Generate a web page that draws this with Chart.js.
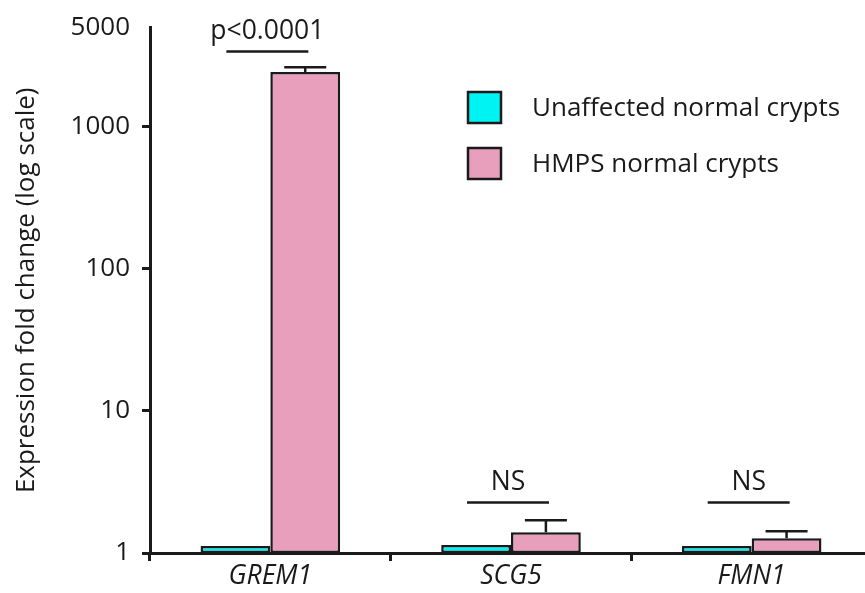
<!DOCTYPE html>
<html>
<head>
<meta charset="utf-8">
<script src="https://cdn.jsdelivr.net/npm/chart.js@4.4.0/dist/chart.umd.min.js"></script>
<style>
html,body{margin:0;padding:0;background:#fff;overflow:hidden;width:865px;height:593px;}
canvas{display:block;}
</style>
</head>
<body>
<canvas id="c" width="872" height="593"></canvas>
<script>
const categories = ['GREM1', 'SCG5', 'FMN1'];
const seriesNames = ['Unaffected normal crypts', 'HMPS normal crypts'];
const unaffected = [1.12, 1.14, 1.12];
const hmps = [2430, 1.40, 1.27];
const hmpsErrUpper = [2630, 1.70, 1.42];
const yTickValues = [1, 10, 100, 1000, 5000];
const sigLabels = ['p<0.0001', 'NS', 'NS'];
const sigLevel = [3400, 2.27, 2.27];

const FONT = "'Open Sans', 'Noto Sans', sans-serif";
const INK = '#1a1a1a';
const CYAN = '#00f3f3';
const PINK = '#e89fbc';

const overlay = {
  id: 'overlay',
  afterDatasetsDraw(chart) {
    const ctx = chart.ctx;
    const xs = chart.scales.x, ys = chart.scales.y;
    ctx.save();
    // error bars on HMPS bars
    const meta = chart.getDatasetMeta(1);
    ctx.strokeStyle = INK;
    ctx.lineWidth = 2.5;
    meta.data.forEach((bar, i) => {
      const top = ys.getPixelForValue(hmps[i]);
      const cap = ys.getPixelForValue(hmpsErrUpper[i]);
      ctx.beginPath();
      ctx.moveTo(bar.x, top);
      ctx.lineTo(bar.x, cap);
      ctx.moveTo(bar.x - 21, cap);
      ctx.lineTo(bar.x + 21, cap);
      ctx.stroke();
    });
    // significance annotations
    ctx.fillStyle = INK;
    ctx.font = '26.5px ' + FONT;
    ctx.textAlign = 'center';
    ctx.textBaseline = 'alphabetic';
    categories.forEach((c, i) => {
      const cx = xs.getPixelForValue(i) - 3;
      const y = ys.getPixelForValue(sigLevel[i]);
      ctx.beginPath();
      ctx.lineWidth = 2.5;
      ctx.moveTo(cx - 41, y);
      ctx.lineTo(cx + 41, y);
      ctx.stroke();
      ctx.fillText(sigLabels[i], cx, y - 12);
    });
    // legend
    const colors = [CYAN, PINK];
    ctx.textAlign = 'left';
    ctx.textBaseline = 'middle';
    ctx.font = '26px ' + FONT;
    seriesNames.forEach((n, i) => {
      const bx = 468, by = 92 + i * 56;
      ctx.fillStyle = colors[i];
      ctx.fillRect(bx, by, 33, 31);
      ctx.lineWidth = 2.5;
      ctx.strokeStyle = INK;
      ctx.strokeRect(bx, by, 33, 31);
      ctx.fillStyle = INK;
      ctx.fillText(n, 532, by + 17);
    });
    ctx.restore();
  }
};

new Chart(document.getElementById('c'), {
  type: 'bar',
  data: {
    labels: categories,
    datasets: [
      { label: seriesNames[0], data: unaffected, backgroundColor: CYAN, borderColor: INK, borderWidth: 2.5, borderSkipped: false },
      { label: seriesNames[1], data: hmps, backgroundColor: PINK, borderColor: INK, borderWidth: 2.5, borderSkipped: false }
    ]
  },
  options: {
    responsive: false,
    animation: false,
    devicePixelRatio: 1,
    layout: { padding: { top: 25, right: 0, bottom: 0, left: 0 } },
    plugins: { legend: { display: false }, tooltip: { enabled: false } },
    datasets: { bar: { categoryPercentage: 0.58, barPercentage: 1.0 } },
    scales: {
      x: {
        type: 'category',
        offset: true,
        afterFit(s) { s.height = 40; },
        border: { display: true, color: INK, width: 3 },
        grid: { display: true, offset: true, drawOnChartArea: false, drawTicks: true, tickLength: 8, color: INK, lineWidth: 3 },
        ticks: { color: INK, font: { family: FONT, size: 26.5, style: 'italic' }, padding: 0, maxRotation: 0 }
      },
      y: {
        type: 'logarithmic',
        min: 1,
        max: 5000,
        afterFit(s) { s.width = 150; },
        afterBuildTicks(s) { s.ticks = yTickValues.map(v => ({ value: v })); },
        border: { display: true, color: INK, width: 3 },
        grid: {
          display: true, drawOnChartArea: false, drawTicks: true, tickLength: 8, color: INK,
          lineWidth: (c) => (c.tick && c.tick.value === 5000) ? 0 : 3
        },
        ticks: {
          color: INK, font: { family: FONT, size: 26 }, padding: 12,
          callback: (v) => String(v)
        },
        title: {
          display: true, text: 'Expression fold change (log scale)', color: INK,
          font: { family: FONT, size: 26 }, padding: { top: 11, bottom: 0 }
        }
      }
    }
  },
  plugins: [overlay]
});
</script>
</body>
</html>
